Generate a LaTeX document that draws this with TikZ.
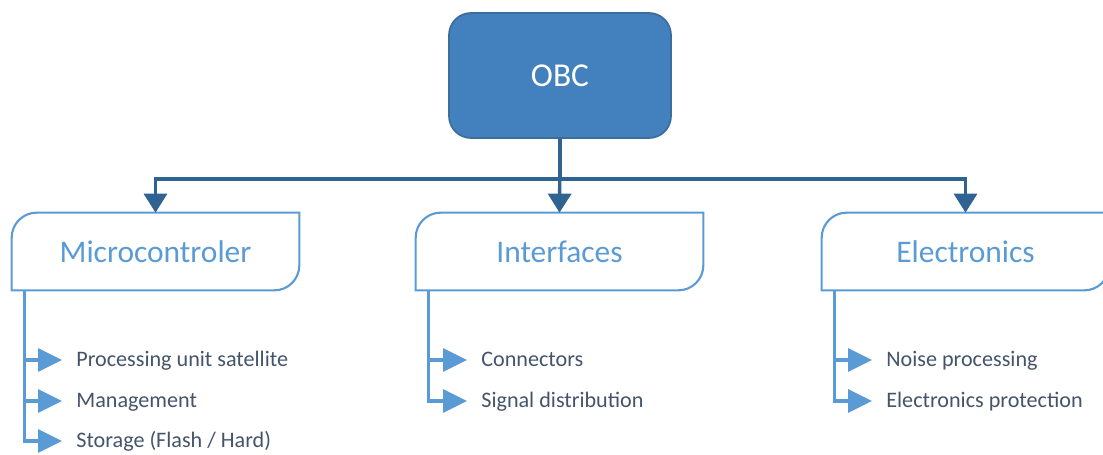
\documentclass[tikz,border=0pt]{standalone}
\usepackage{fontspec}
\setmainfont{Carlito}
\usetikzlibrary{arrows.meta,calc}
\definecolor{obcfill}{HTML}{4281BE}
\definecolor{obcline}{HTML}{3C6E9C}
\definecolor{trunk}{HTML}{2F6392}
\definecolor{accent}{HTML}{5B9BD5}
\definecolor{itemtext}{HTML}{44546A}
\tikzset{
  obcbox/.style={draw=obcline, line width=1pt, fill=obcfill, rounded corners=0.44cm,
    minimum width=4.44cm, minimum height=2.5cm, text=white, font=\fontsize{19}{21}\selectfont},
  groupbox/.style={minimum width=5.74cm, minimum height=1.54cm, inner sep=0pt,
    text=accent, font=\fontsize{17.9}{20}\selectfont},
  outline/.style={draw=accent, line width=1.2pt},
  trunkline/.style={draw=trunk, line width=1.9pt, -{Triangle[length=0.38cm,width=0.46cm]}},
  itemline/.style={draw=accent, line width=1.8pt, -{Triangle[length=0.48cm,width=0.46cm]}},
  item/.style={anchor=base west, inner sep=0pt, text=itemtext, font=\fontsize{12.6}{15}\selectfont},
}
\newcommand{\groupoutline}[1]{%
  \draw[outline] (#1.south west) -- ([yshift=-0.5cm]#1.north west)
    arc[start angle=180, end angle=90, radius=0.5cm] -- (#1.north east)
    -- ([yshift=0.5cm]#1.south east)
    arc[start angle=0, end angle=-90, radius=0.5cm] -- cycle;}
\begin{document}
\begin{tikzpicture}[x=0.02cm, y=0.02cm]
  \useasboundingbox[fill=white] (0,0) rectangle (1103,-454);

  % top-level block
  \node[obcbox] (obc) at (560,-75.5) {OBC};

  % the three groups
  \node[groupbox] (mc) at (155.5,-251.5) {Microcontroler};
  \node[groupbox] (ifc) at (559.5,-251.5) {Interfaces};
  \node[groupbox] (elx) at (965.5,-251.5) {Electronics};
  \groupoutline{mc}
  \groupoutline{ifc}
  \groupoutline{elx}

  % trunk from OBC to the groups
  \draw[trunkline] (obc.south) -- ++(0,-40) -| (mc.north);
  \draw[trunkline] (obc.south) -- (ifc.north);
  \draw[trunkline] (obc.south) -- ++(0,-40) -| (elx.north);

  % items of the microcontroller
  \node[item] (mc1) at (76,-366) {Processing unit satellite};
  \node[item] (mc2) at (76,-407) {Management};
  \node[item] (mc3) at (76,-447) {Storage (Flash / Hard)};
  \foreach \n in {mc1,mc2,mc3}
    \draw[itemline] ([xshift=13*0.02cm]mc.south west) |- ([xshift=-0.28cm,yshift=0.12cm]\n.base west);

  % items of the interfaces
  \node[item] (if1) at (481,-366) {Connectors};
  \node[item] (if2) at (481,-407) {Signal distribution};
  \foreach \n in {if1,if2}
    \draw[itemline] ([xshift=13*0.02cm]ifc.south west) |- ([xshift=-0.28cm,yshift=0.12cm]\n.base west);

  % items of the electronics
  \node[item] (el1) at (886,-366) {Noise processing};
  \node[item] (el2) at (886,-407) {Electronics protection};
  \foreach \n in {el1,el2}
    \draw[itemline] ([xshift=13*0.02cm]elx.south west) |- ([xshift=-0.28cm,yshift=0.12cm]\n.base west);
\end{tikzpicture}
\end{document}
